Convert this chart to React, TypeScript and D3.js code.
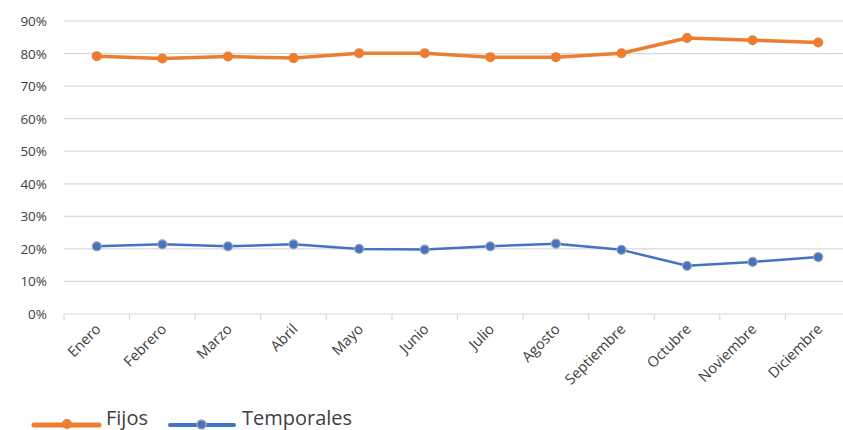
import React from "react";
import * as d3 from "d3";

const months = ["Enero","Febrero","Marzo","Abril","Mayo","Junio","Julio","Agosto","Septiembre","Octubre","Noviembre","Diciembre"];
const fijos = [79.2, 78.5, 79.1, 78.6, 80.1, 80.1, 78.9, 78.9, 80.1, 84.8, 84.1, 83.4];
const temporales = [20.8, 21.4, 20.8, 21.4, 20.0, 19.8, 20.8, 21.6, 19.7, 14.8, 16.0, 17.5];
const yTicks = [0, 10, 20, 30, 40, 50, 60, 70, 80, 90];

const W = 843, H = 430;
const left = 64, right = 851, top = 21, bottom = 314;
const FONT = "'Open Sans', 'DejaVu Sans', sans-serif";

export default function App() {
  const x = d3.scaleBand<string>().domain(months).range([left, right]);
  const y = d3.scaleLinear().domain([0, 90]).range([bottom, top]);
  const cx = (m: string) => (x(m) as number) + x.bandwidth() / 2;
  const line = d3.line<number>().x((_, i) => cx(months[i])).y(d => y(d));
  const orange = "#ED7D31", blue = "#4472C4";
  const tickXs = d3.range(months.length + 1).map(i => left + i * x.bandwidth());
  return (
    <svg width={W} height={H} style={{ position: "absolute", left: 0, top: 0, background: "#fff" }}>
      {yTicks.map(t => (
        <g key={t}>
          <line x1={left} x2={right} y1={y(t)} y2={y(t)} stroke="#d9d9d9" strokeWidth={1.2} />
          <text x={47} y={y(t) + 5} textAnchor="end" fontFamily={FONT} fontSize={13.5} fill="#404040">{t}%</text>
        </g>
      ))}
      {tickXs.map((tx, i) => (
        <line key={i} x1={tx} x2={tx} y1={bottom} y2={bottom + 6} stroke="#d9d9d9" strokeWidth={1.2} />
      ))}
      {months.map(m => (
        <text key={m} transform={`translate(${cx(m) + 5},${bottom + 16}) rotate(-45)`} textAnchor="end" fontFamily={FONT} fontSize={14.5} fill="#404040">{m}</text>
      ))}
      <path d={line(fijos) || ""} fill="none" stroke={orange} strokeWidth={3.5} strokeLinejoin="round" />
      {fijos.map((v, i) => (
        <circle key={i} cx={cx(months[i])} cy={y(v)} r={5} fill={orange} />
      ))}
      <path d={line(temporales) || ""} fill="none" stroke={blue} strokeWidth={2.5} strokeLinejoin="round" />
      {temporales.map((v, i) => (
        <circle key={i} cx={cx(months[i])} cy={y(v)} r={4.5} fill={blue} stroke="#a5a5a5" strokeWidth={1.2} />
      ))}
      <g>
        <line x1={34} x2={99} y1={425} y2={425} stroke={orange} strokeWidth={5} strokeLinecap="round" />
        <circle cx={67} cy={424} r={5} fill={orange} />
        <text x={106} y={424.5} fontFamily={FONT} fontSize={20} fill="#404040">Fijos</text>
        <line x1={170} x2={234} y1={425} y2={425} stroke={blue} strokeWidth={4} strokeLinecap="round" />
        <circle cx={201.5} cy={424.5} r={4.5} fill={blue} stroke="#a5a5a5" strokeWidth={1.5} />
        <text x={242} y={424.5} fontFamily={FONT} fontSize={20} fill="#404040">Temporales</text>
      </g>
    </svg>
  );
}
